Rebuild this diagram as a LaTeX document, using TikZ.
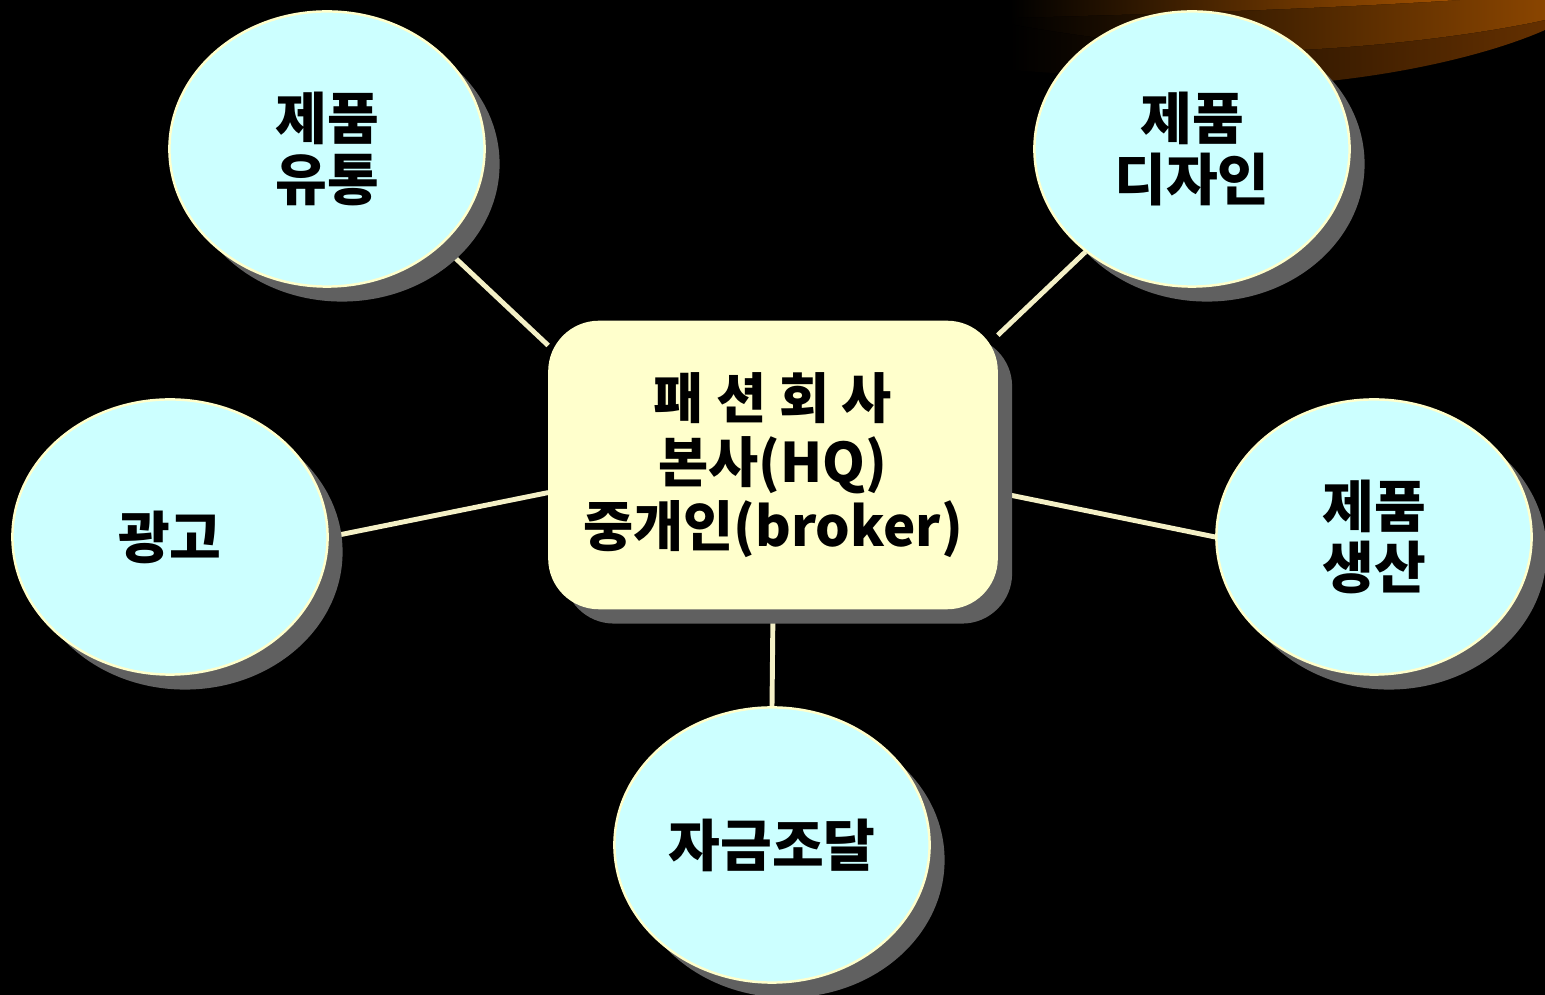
\documentclass[tikz,border=0pt]{standalone}
\usepackage{fontspec}
\newfontfamily\krfont{Noto Sans CJK KR}
\usetikzlibrary{shapes.geometric,shadows}
\definecolor{bubblefill}{HTML}{CCFFFF}
\definecolor{boxfill}{HTML}{FFFFCC}
\definecolor{shadowgray}{HTML}{606060}
\definecolor{linkcolor}{HTML}{F4F0C6}
\definecolor{arcbright}{HTML}{A65300}
\definecolor{arcmid}{HTML}{8A4500}
\definecolor{arcdark}{HTML}{643000}
\pgfdeclarelayer{bg}
\pgfdeclarelayer{links}
\pgfsetlayers{bg,links,main}
\tikzset{bubble/.style={ellipse, draw=boxfill, line width=0.7pt, fill=bubblefill,
  minimum width=3.15cm, minimum height=2.75cm, inner sep=0pt, align=center,
  font=\krfont\bfseries\fontsize{16}{17.5}\selectfont,
  drop shadow={shadow xshift=0.15cm, shadow yshift=-0.15cm, fill=shadowgray, opacity=1}}}
\tikzset{hqbox/.style={rectangle, rounded corners=0.5cm, draw=boxfill, fill=boxfill,
  minimum width=4.48cm, minimum height=2.87cm, align=center,
  font=\krfont\bfseries\fontsize{15.5}{18.2}\selectfont,
  drop shadow={shadow xshift=0.15cm, shadow yshift=-0.15cm, fill=shadowgray, opacity=1}}}
\tikzset{link/.style={draw=linkcolor, line width=1.4pt}}
\begin{document}
\begin{tikzpicture}[x=0.01cm, y=-0.01cm]
  \useasboundingbox (0,0) rectangle (1545,995);
  \begin{pgfonlayer}{bg}
    \fill[black] (0,0) rectangle (1545,995);
    % orange arc in the corner
    \fill[left color=black, right color=arcdark] (1010,0) -- (1010,70) .. controls (1150,80) and (1250,84) .. (1320,82) .. controls (1420,72) and (1500,50) .. (1545,30) -- (1545,0) -- cycle;
    \fill[left color=black, right color=arcmid] (1010,0) -- (1010,24) .. controls (1100,40) and (1200,52) .. (1300,50) .. controls (1400,45) and (1490,32) .. (1545,20) -- (1545,0) -- cycle;
    \fill[left color=black, right color=arcbright] (1010,0) -- (1010,18) .. controls (1150,14) and (1300,10) .. (1460,0) -- cycle;
  \end{pgfonlayer}

  \node[hqbox] (hq) at (773,465) {패 션 회 사\\본사(HQ)\\중개인(broker)};

  \node[bubble] (dist) at (327,149) {제품\\유통};
  \node[bubble] (design) at (1192,149) {제품\\디자인};
  \node[bubble] (ad) at (170,537) {광고};
  \node[bubble] (prod) at (1374,537) {제품\\생산};
  \node[bubble] (fund) at (772,845) {자금조달};

  \begin{pgfonlayer}{links}
    \draw[link] (dist.-40) -- (hq.152);
    \draw[link] (design.224) -- (hq.30);
    \draw[link] (ad.east) -- (hq.-173);
    \draw[link] (prod.west) -- (hq.-7);
    \draw[link] (fund.north) -- (hq.south);
  \end{pgfonlayer}
\end{tikzpicture}
\end{document}
